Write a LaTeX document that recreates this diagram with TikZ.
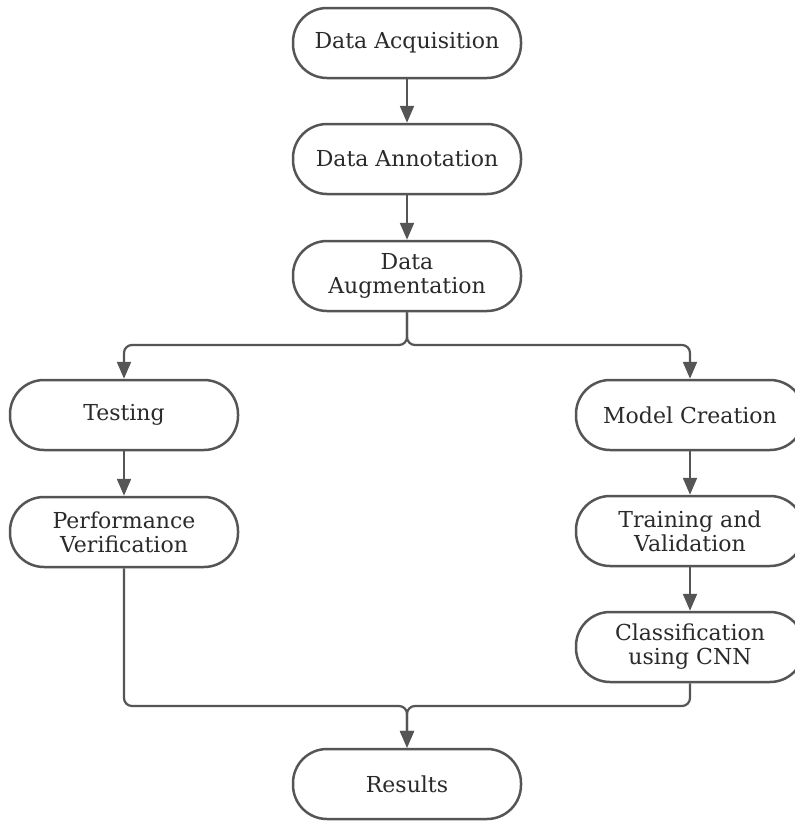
\documentclass[tikz,border=0pt]{standalone}
\usepackage{fontspec}
\setmainfont{DejaVu Serif}
\usetikzlibrary{arrows.meta}
\definecolor{linegray}{HTML}{555555}
\definecolor{textgray}{HTML}{2a2a2a}

\tikzset{
  stage/.style={draw=linegray, line width=2.5pt, rounded corners=34pt, fill=white,
    minimum width=228pt, minimum height=70pt, align=center, text=textgray,
    font=\fontsize{22}{24}\selectfont},
  flow/.style={draw=linegray, line width=2.2pt, rounded corners=8pt,
    -{Triangle[width=14pt,length=17pt]}}
}

\begin{document}
\begin{tikzpicture}[x=1pt,y=-1pt]

\useasboundingbox (0,0) rectangle (795,822);
\clip (0,0) rectangle (795,822);
\fill[white] (0,0) rectangle (795,822);

% main column
\node[stage] (acq) at (407,43) {Data Acquisition};
\node[stage] (ann) at (407,159) {Data Annotation};
\node[stage] (aug) at (407,276) {Data\\Augmentation};

% left branch
\node[stage] (test) at (124,415) {Testing};
\node[stage] (perf) at (124,532) {Performance\\Verification};

% right branch
\node[stage] (model) at (690,415) {Model Creation};
\node[stage] (train) at (690,531) {Training and\\Validation};
\node[stage] (cls) at (690,647) {Classification\\using CNN};

\node[stage] (res) at (407,784) {Results};

\coordinate (split) at (407,345);
\coordinate (merge) at (407,706);

\draw[flow] (acq) -- (ann);
\draw[flow] (ann) -- (aug);
\draw[flow] (aug.south) -- (split) -| (test.north);
\draw[flow] (aug.south) -- (split) -| (model.north);
\draw[flow] (test) -- (perf);
\draw[flow] (model) -- (train);
\draw[flow] (train) -- (cls);
\draw[flow] (perf.south) |- (merge) -- (res.north);
\draw[flow] (cls.south) |- (merge) -- (res.north);

\end{tikzpicture}
\end{document}
